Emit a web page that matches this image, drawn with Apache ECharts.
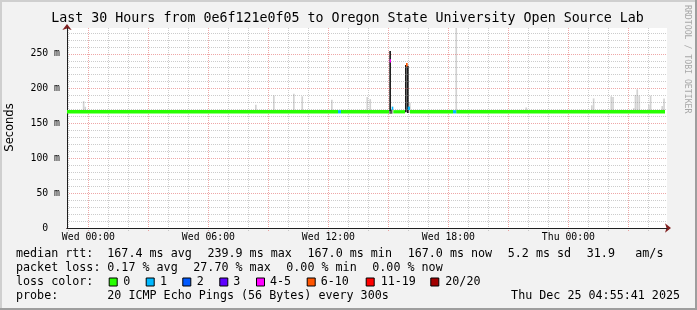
<!DOCTYPE html>
<html><head><meta charset="utf-8">
<script src="https://cdn.jsdelivr.net/npm/echarts@6.0.0/dist/echarts.min.js"></script>
<style>html,body{margin:0;padding:0;background:#f2f2f2}#c{width:697px;height:310px}</style>
</head><body><div id="c"></div>
<script>
// ================= DATA =================
const titleText = 'Last 30 Hours from 0e6f121e0f05 to Oregon State University Open Source Lab';
// x in hours relative to Wed 00:00 ; window = last 30 h ending Thu 04:55
const xStart = -1.07, xEnd = 28.93;
const stepHours = 5 / 60;
const yMax = 287;                 // ms
const minorGridHours = [-1, 1, 2, 4, 5, 7, 8, 10, 11, 13, 14, 16, 17, 19, 20, 22, 23, 25, 26, 28];
const majorGridHours = [0, 3, 6, 9, 12, 15, 18, 21, 24, 27];
const tickLabelHours = [0, 6, 12, 18, 24];
const tickLabels = ['Wed 00:00', 'Wed 06:00', 'Wed 12:00', 'Wed 18:00', 'Thu 00:00'];

// median rtt segments (hours), value (ms), loss class index
const segStart  = [-1.07, 12.48, 12.63, 15.065, 15.165, 15.245, 15.88, 15.965, 16.08, 18.23, 18.4];
const segEnd    = [12.48, 12.63, 15.03, 15.13, 15.245, 15.83, 15.965, 16.08, 18.23, 18.4, 28.83];
const segMedian = [167, 167, 167, 239.9, 172, 167, 234.5, 172, 167, 167, 167];
const segLoss   = [0, 1, 0, 4, 1, 0, 5, 1, 0, 1, 0];

// smoke (ping spread) – light, medium and dense
const lightSmokeHour = [-0.28, -0.2, 8.33, 9.23, 10.23, 10.65, 12.13, 13.9, 14.05, 16.03, 18.35, 21.85, 25.13, 25.22, 26.1, 26.19, 27.23, 27.31, 27.4, 27.5, 27.98, 28.07, 28.65, 28.74];
const lightSmokeLo   = [165, 165, 165, 165, 165, 165, 165, 165, 165, 165, 165, 165, 165, 165, 165, 165, 165, 165, 165, 165, 165, 165, 165, 165];
const lightSmokeHi   = [182, 174, 177, 190, 192.5, 189, 184, 188, 185, 180, 300, 173, 176, 186, 189, 188, 172, 191, 199, 190, 177, 190, 175, 186];
const midSmokeHour = [15.045, 15.12];
const midSmokeLo   = [164, 164];
const midSmokeHi   = [171, 170];
const denseSmokeHour = [15.045, 15.83, 15.93];
const denseSmokeLo   = [168, 166, 165];
const denseSmokeHi   = [254, 234, 233];

// legend / stats
const lossLabels = ['0', '1', '2', '3', '4-5', '6-10', '11-19', '20/20'];
const lossColors = ['#26ff00', '#00b8ff', '#0059ff', '#5e00ff', '#ff00ff', '#ff5500', '#ff0000', '#a10000'];
const rttStatVals = [167.4, 239.9, 167.0, 167.0];
const rttStatNames = ['avg', 'max', 'min', 'now'];
const rttSd = 5.2, amPerS = 31.9;
const lossStatVals = [0.17, 27.70, 0.00, 0.00];
const lossStatNames = ['avg', 'max', 'min', 'now'];
const probeText = '20 ICMP Echo Pings (56 Bytes) every 300s';
const dateText = 'Thu Dec 25 04:55:41 2025';

// ================= LAYOUT / STYLE =================
const MONO = '"DejaVu Sans Mono", monospace';
const minorColor = 'rgba(143,143,143,0.45)';
const majorColor = 'rgba(222,79,79,0.5)';
const arrowColor = '#801f1f';
const axisColor = '#1f1f1f';
const legendFont = 11.7;
const rowY = [254, 268, 282, 296];
const rttX = [107.3, 207.4, 307.5, 407.7], sdX = 507.8, ampsX = 586.8, ampsUnitX = 635.3;
const lossX = [107.3, 193.3, 286.3, 372.3];
const boxX = [108.7, 145.7, 182.3, 219.3, 256, 306.7, 365.7, 430.3];
const boxLabelX = [123.3, 160, 196.7, 233.3, 270, 320.7, 380.7, 445.3];

const chart = echarts.init(document.getElementById('c'));

const graphics = [];
function txt(s, x, y, o) {
  o = o || {};
  const al = o.align || 'left';
  graphics.push({type: 'text', x: x, y: y, rotation: o.rot || 0, silent: true, z: 10,
    style: {text: s, font: (o.size || legendFont) + 'px ' + (o.family || MONO), fill: o.color || '#000',
      align: al, textAlign: al, verticalAlign: 'middle', textVerticalAlign: 'middle'}});
}
// frame shading
graphics.push({type: 'rect', shape: {x: 0, y: 0, width: 697, height: 2}, style: {fill: '#cfcfcf'}, silent: true, z: 9});
graphics.push({type: 'rect', shape: {x: 0, y: 0, width: 2, height: 310}, style: {fill: '#cfcfcf'}, silent: true, z: 9});
graphics.push({type: 'rect', shape: {x: 0, y: 308, width: 697, height: 2}, style: {fill: '#9e9e9e'}, silent: true, z: 9});
graphics.push({type: 'rect', shape: {x: 695, y: 0, width: 2, height: 310}, style: {fill: '#9e9e9e'}, silent: true, z: 9});

txt(titleText, 347.5, 18.5, {align: 'center', size: 13.3});
txt('Seconds', 10, 127.5, {align: 'center', size: 11.5, family: '"DejaVu Sans", sans-serif', rot: Math.PI / 2});
txt('RRDTOOL / TOBI OETIKER', 687.5, 5, {align: 'left', size: 8.2, color: '#a8a8a8', rot: -Math.PI / 2});

txt('median rtt:', 16, rowY[0]);
rttStatVals.forEach((v, i) => txt(v.toFixed(1) + ' ms ' + rttStatNames[i], rttX[i], rowY[0]));
txt(rttSd.toFixed(1) + ' ms sd', sdX, rowY[0]);
txt(amPerS.toFixed(1), ampsX, rowY[0]);
txt('am/s', ampsUnitX, rowY[0]);

txt('packet loss:', 16, rowY[1]);
lossStatVals.forEach((v, i) => txt(v.toFixed(2) + ' % ' + lossStatNames[i], lossX[i], rowY[1]));

txt('loss color:', 16, rowY[2]);
lossLabels.forEach((l, i) => {
  graphics.push({type: 'rect', shape: {x: boxX[i] + 0.5, y: rowY[2] - 4, width: 8, height: 8},
    style: {fill: lossColors[i], stroke: '#000', lineWidth: 1}, silent: true, z: 10});
  txt(l, boxLabelX[i], rowY[2]);
});

txt('probe:', 16, rowY[3]);
txt(probeText, 107.3, rowY[3]);
txt(dateText, 680, rowY[3], {align: 'right'});

// ================= SERIES =================
function vGrid(hours, color) {
  return {type: 'custom', coordinateSystem: 'cartesian2d', silent: true, z: 1, clip: false,
    data: hours.map(h => [h, 0]),
    renderItem(params, api) {
      const t = api.coord([api.value(0), yMax]);
      const b = api.coord([api.value(0), 0]);
      const x = Math.round(t[0]) + 0.5;
      return {type: 'line', shape: {x1: x, y1: t[1], x2: x, y2: b[1] + 3},
        style: {stroke: color, lineWidth: 1, lineDash: [1, 1], fill: null}};
    }};
}
function smoke(hours, lo, hi, color, wf) {
  return {type: 'custom', coordinateSystem: 'cartesian2d', silent: true, z: 2, clip: true,
    data: hours.map((h, i) => [h, lo[i], hi[i]]),
    renderItem(params, api) {
      const p0 = api.coord([api.value(0), api.value(1)]);
      const p1 = api.coord([api.value(0), api.value(2)]);
      const w = api.size([stepHours, 0])[0] * wf;
      return {type: 'rect', shape: {x: p0[0], y: p1[1], width: w, height: p0[1] - p1[1]}, style: {fill: color}};
    }};
}

const option = {
  animation: false,
  backgroundColor: '#f2f2f2',
  textStyle: {fontFamily: MONO},
  grid: {left: 67, right: 30, top: 28, bottom: 82, show: true, backgroundColor: '#ffffff', borderWidth: 0,
    containLabel: false, outerBoundsMode: 'none'},
  xAxis: [
    {type: 'value', min: xStart, max: xEnd, position: 'bottom', z: 3,
      axisLine: {show: true, onZero: false, lineStyle: {color: axisColor, width: 1}},
      axisTick: {show: false}, axisLabel: {show: false}, splitLine: {show: false}},
    {type: 'value', min: xStart, max: xEnd, position: 'bottom', z: 0,
      axisLine: {show: true, onZero: false, lineStyle: {color: arrowColor, width: 1},
        symbol: ['none', 'arrow'], symbolSize: [7, 6], symbolOffset: [0, 4]},
      axisTick: {show: false}, axisLabel: {show: false}, splitLine: {show: false}}
  ],
  yAxis: [
    {type: 'value', min: 0, max: yMax, interval: 10, position: 'left', z: 3,
      axisLine: {show: true, onZero: false, lineStyle: {color: axisColor, width: 1}},
      axisTick: {show: false},
      axisLabel: {show: true, margin: 7, fontFamily: MONO, fontSize: 9.8, color: '#000',
        showMaxLabel: false,
        formatter: v => (Math.round(v) % 50 === 0) ? (v === 0 ? '0  ' : Math.round(v) + ' m') : ''},
      splitLine: {show: true, showMaxLine: false,
        lineStyle: {color: [majorColor, minorColor, minorColor, minorColor, minorColor], width: 1, type: [1, 1]}}},
    {type: 'value', min: 0, max: yMax, position: 'left', offset: 0, z: 0,
      axisLine: {show: true, onZero: false, lineStyle: {color: arrowColor, width: 1},
        symbol: ['none', 'arrow'], symbolSize: [7, 6], symbolOffset: [0, 4]},
      axisTick: {show: false}, axisLabel: {show: false}, splitLine: {show: false}}
  ],
  graphic: {elements: graphics},
  series: [
    vGrid(minorGridHours, minorColor),
    vGrid(majorGridHours, majorColor),
    smoke(lightSmokeHour, lightSmokeLo, lightSmokeHi, '#d2d2d2', 1),
    smoke(midSmokeHour, midSmokeLo, midSmokeHi, '#555555', 1),
    smoke(denseSmokeHour, denseSmokeLo, denseSmokeHi, '#1a1a1a', 1),
    {type: 'custom', coordinateSystem: 'cartesian2d', silent: true, z: 4, clip: true,
      data: segStart.map((s, i) => [s, segEnd[i], segMedian[i], segLoss[i]]),
      encode: {x: [0, 1], y: 2},
      renderItem(params, api) {
        const p0 = api.coord([api.value(0), api.value(2)]);
        const p1 = api.coord([api.value(1), api.value(2)]);
        return {type: 'rect', shape: {x: p0[0], y: p0[1] - 1.5, width: p1[0] - p0[0], height: 3.3},
          style: {fill: lossColors[api.value(3)]}};
      }},
    {type: 'custom', coordinateSystem: 'cartesian2d', silent: true, z: 5, clip: false,
      data: tickLabelHours.map((h, i) => [h, 0, i]),
      renderItem(params, api) {
        const p = api.coord([api.value(0), 0]);
        return {type: 'text', x: p[0], y: p[1] + 9.5,
          style: {text: tickLabels[api.value(2)], font: '9.8px ' + MONO, fill: '#000',
            align: 'center', textAlign: 'center', verticalAlign: 'middle', textVerticalAlign: 'middle'}};
      }}
  ]
};
chart.setOption(option);
</script>
</body></html>
